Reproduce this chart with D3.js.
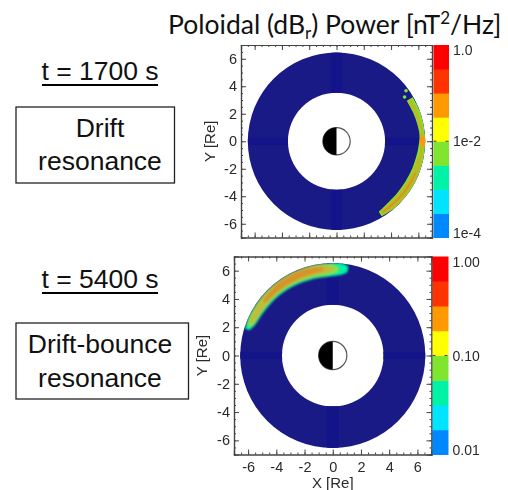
<!DOCTYPE html>
<html>
<head>
<meta charset="utf-8">
<script src="https://cdn.jsdelivr.net/npm/d3@7"></script>
<style>
  html, body { margin: 0; padding: 0; background: #fff; }
  svg { display: block; }
  text { fill: #111; }
  .soft { filter: blur(0.5px); }
  .hot1 { filter: blur(0.4px); }
  .hot2 { filter: blur(1px); }
  .plot text { font-family: "Liberation Sans", Arial, sans-serif; fill: #2a2a2a; }
  .note { font-family: "Liberation Sans", Arial, sans-serif; font-size: 26.5px; text-anchor: middle; }
</style>
</head>
<body>
<div id="chart"></div>
<script>
// colour levels of both colour bars, bottom to top
var levels = ["#0088ff", "#00e4ff", "#00f2a6", "#7fe52e", "#ffff00", "#ff9900", "#ff3300", "#ff0000"];
var ticksRe = [-6, -4, -2, 0, 2, 4, 6];
var minorRe = d3.range(-7, 7.01, 0.5);

// limits of the plasma annulus [Re]
var ringInner1 = 3.56, ringOuter1 = 6.5;
var ringInner2 = 3.6, ringOuter2 = 6.56;

// t = 1700 s, enhanced power along the right flank: azimuth (deg), inner and outer radius [Re]
var driftGreenAz = [-59, -50, -40, -30, -20, -10, -4, 4, 12, 20, 30];
var driftGreenIn = [6.02, 5.88, 5.85, 5.85, 5.9, 5.96, 6.02, 6.1, 6.05, 6.0, 5.95];
var driftGreenOut = [6.42, 6.48, 6.5, 6.5, 6.5, 6.5, 6.5, 6.5, 6.5, 6.5, 6.45];
var driftOliveAz = [-58, -50, -40, -30, -20, -12, -6, 6, 14, 22, 29];
var driftOliveIn = [6.08, 5.96, 5.94, 5.95, 6.0, 6.05, 6.15, 6.18, 6.1, 6.05, 6.0];
var driftOliveOut = [6.38, 6.44, 6.46, 6.46, 6.44, 6.4, 6.42, 6.42, 6.36, 6.33, 6.3];
var driftOrangeAz = [-57, -48, -38, -30, -22];
var driftOrangeIn = [6.14, 6.1, 6.12, 6.14, 6.16];
var driftOrangeOut = [6.28, 6.26, 6.28, 6.3, 6.3];
var driftPeakAz = [-3, 0, 3];
var driftPeakIn = [6.15, 6.1, 6.15];
var driftPeakOut = [6.5, 6.5, 6.5];
var driftSpeckAz = [33, 36];
var driftSpeckR = [5.95, 6.3];

// t = 5400 s, enhanced power on the upper left: azimuth (deg), inner and outer radius [Re]
var bounceTealAz = [80, 84, 92, 105, 120, 135, 150, 158, 163];
var bounceTealIn = [6.0, 5.75, 5.6, 5.6, 5.65, 5.72, 5.8, 5.9, 6.15];
var bounceTealOut = [6.4, 6.56, 6.56, 6.56, 6.56, 6.56, 6.56, 6.56, 6.5];
var bounceGreenAz = [86, 92, 105, 120, 135, 150, 158, 161];
var bounceGreenIn = [5.95, 5.72, 5.7, 5.75, 5.82, 5.88, 5.98, 6.15];
var bounceGreenOut = [6.3, 6.5, 6.54, 6.54, 6.54, 6.52, 6.48, 6.4];
var bounceOliveAz = [90, 98, 110, 125, 140, 152, 158];
var bounceOliveIn = [5.98, 5.85, 5.82, 5.87, 5.92, 6.0, 6.12];
var bounceOliveOut = [6.28, 6.46, 6.5, 6.5, 6.46, 6.4, 6.34];
var bounceOrangeAz = [96, 105, 115, 128, 142];
var bounceOrangeIn = [6.05, 5.96, 5.95, 5.98, 6.06];
var bounceOrangeOut = [6.28, 6.38, 6.42, 6.4, 6.3];

var width = 508, height = 490;
var svg = d3.select("#chart").append("svg").attr("width", width).attr("height", height);

function ribbon(az, inner, outer, color) {
  return { az: az, inner: inner, outer: outer, color: color };
}

function drawPanel(cfg) {
  var g = svg.append("g").attr("class", "plot soft");
  var x = d3.scaleLinear().domain([-7, 7]).range([cfg.left, cfg.right]);
  var y = d3.scaleLinear().domain([-7, 7]).range([cfg.bottom, cfg.top]);
  var r = function (v) { return (x(v) - x(0)); };
  var clipId = "ring" + cfg.id;
  var center = "translate(" + x(0) + "," + y(0) + ")";

  var ringPath = d3.arc()({
    innerRadius: r(cfg.ringInner), outerRadius: r(cfg.ringOuter),
    startAngle: 0, endAngle: 2 * Math.PI
  });
  g.append("clipPath").attr("id", clipId).append("path")
    .attr("transform", center)
    .attr("d", ringPath);

  g.append("path").attr("transform", center).attr("d", ringPath).attr("fill", "#1a1a86");

  // darker streaks along the axes
  var streaks = g.append("g").attr("clip-path", "url(#" + clipId + ")");
  streaks.append("rect").attr("x", x(-0.42)).attr("width", x(0.42) - x(-0.42))
    .attr("y", y(7)).attr("height", y(-7) - y(7)).attr("fill", "#13138a");
  streaks.append("rect").attr("y", y(0.26)).attr("height", y(-0.26) - y(0.26))
    .attr("x", x(-7)).attr("width", x(7) - x(-7)).attr("fill", "#13138a");

  // power ribbons
  var area = d3.areaRadial().curve(d3.curveCatmullRom)
    .angle(function (d) { return (90 - d.a) * Math.PI / 180; })
    .innerRadius(function (d) { return r(d.i); })
    .outerRadius(function (d) { return r(d.o); });
  var hot = g.append("g").attr("clip-path", "url(#" + clipId + ")")
    .append("g").attr("class", "hot" + cfg.id).attr("transform", center);
  cfg.ribbons.forEach(function (rb) {
    var rows = rb.az.map(function (a, i) { return { a: a, i: rb.inner[i], o: rb.outer[i] }; });
    hot.append("path").attr("d", area(rows)).attr("fill", rb.color);
  });
  (cfg.specks || []).forEach(function (s) {
    hot.append("circle").attr("r", 1.8).attr("fill", levels[3])
      .attr("cx", r(s.r * Math.cos(s.a * Math.PI / 180)))
      .attr("cy", -r(s.r * Math.sin(s.a * Math.PI / 180)));
  });

  // Earth, night side black
  var earth = g.append("g").attr("transform", center);
  earth.append("circle").attr("r", r(1)).attr("fill", "#fff").attr("stroke", "#555").attr("stroke-width", 1.2);
  earth.append("path").attr("fill", "#000").attr("d", d3.arc()({
    innerRadius: 0, outerRadius: r(1), startAngle: Math.PI, endAngle: 2 * Math.PI
  }));

  // frame and ticks on all sides
  var plain = function (d) { return String(d); }; // hyphen minus like the original
  function addAxis(axis, dx, dy) {
    var a = g.append("g").attr("transform", "translate(" + dx + "," + dy + ")").call(axis);
    a.select(".domain").attr("stroke", "#444").attr("stroke-width", 1.2);
    a.selectAll(".tick line").attr("stroke", "#444");
    a.selectAll("text").attr("font-size", 14.5);
    return a;
  }
  addAxis(d3.axisLeft(y).tickValues(minorRe).tickSize(-2).tickFormat(""), cfg.left, 0);
  addAxis(d3.axisRight(y).tickValues(minorRe).tickSize(-2).tickFormat(""), cfg.right, 0);
  addAxis(d3.axisTop(x).tickValues(minorRe).tickSize(-2).tickFormat(""), 0, cfg.top);
  addAxis(d3.axisBottom(x).tickValues(minorRe).tickSize(-2).tickFormat(""), 0, cfg.bottom);
  addAxis(d3.axisLeft(y).tickValues(ticksRe).tickSize(-5).tickPadding(4).tickFormat(plain), cfg.left, 0);
  addAxis(d3.axisRight(y).tickValues(ticksRe).tickSize(-5).tickFormat(""), cfg.right, 0);
  addAxis(d3.axisTop(x).tickValues(ticksRe).tickSize(-5).tickFormat(""), 0, cfg.top);
  addAxis(d3.axisBottom(x).tickValues(ticksRe).tickSize(-5).tickPadding(7)
    .tickFormat(cfg.xLabels ? plain : ""), 0, cfg.bottom);

  g.append("text").attr("transform", "translate(" + cfg.yLabelX + "," + y(0) + ") rotate(-90)")
    .attr("text-anchor", "middle").attr("font-size", 15).text("Y [Re]");
  if (cfg.xLabels) {
    g.append("text").attr("x", x(0)).attr("y", cfg.bottom + 33)
      .attr("text-anchor", "middle").attr("font-size", 15).text("X [Re]");
  }

  // colour bar
  var band = d3.scaleBand().domain(d3.range(levels.length)).range([cfg.bottom, cfg.top]);
  g.selectAll(".lev" + cfg.id).data(levels).enter().append("rect")
    .attr("x", cfg.barLeft).attr("width", cfg.barRight - cfg.barLeft)
    .attr("y", function (d, i) { return band(i); })
    .attr("height", band.bandwidth() + 0.5)
    .attr("fill", function (d) { return d; });
  var c = d3.scaleLog().domain(cfg.barDomain).range([cfg.bottom - 5, cfg.top + 5]);
  g.selectAll(".barlabel" + cfg.id).data(cfg.barTicks).enter().append("text")
    .attr("x", cfg.barRight + 4)
    .attr("y", function (d) { return c(d); })
    .attr("dy", "0.36em").attr("font-size", 14)
    .text(function (d, i) { return cfg.barLabels[i]; });
  var mid = cfg.barTicks[1];
  g.append("line").attr("x1", cfg.barLeft).attr("x2", cfg.barRight)
    .attr("y1", c(mid)).attr("y2", c(mid))
    .attr("stroke", "#444").attr("stroke-dasharray", "3,9");
}

drawPanel({
  id: 1, left: 241, right: 432, top: 45, bottom: 237.5,
  ringInner: ringInner1, ringOuter: ringOuter1,
  ribbons: [
    ribbon(driftGreenAz, driftGreenIn, driftGreenOut, levels[3]),
    ribbon(driftOliveAz, driftOliveIn, driftOliveOut, "#b9bb22"),
    ribbon(driftOrangeAz, driftOrangeIn, driftOrangeOut, "#d8971c"),
    ribbon(driftPeakAz, driftPeakIn, driftPeakOut, levels[5])
  ],
  specks: driftSpeckAz.map(function (a, i) { return { a: a, r: driftSpeckR[i] }; }),
  yLabelX: 215, xLabels: false,
  barLeft: 433.5, barRight: 449,
  barDomain: [1e-4, 1], barTicks: [1, 1e-2, 1e-4], barLabels: ["1.0", "1e-2", "1e-4"]
});

drawPanel({
  id: 2, left: 234, right: 431.5, top: 256.5, bottom: 454.5,
  ringInner: ringInner2, ringOuter: ringOuter2,
  ribbons: [
    ribbon(bounceTealAz, bounceTealIn, bounceTealOut, levels[2]),
    ribbon(bounceGreenAz, bounceGreenIn, bounceGreenOut, "#8fdc4a"),
    ribbon(bounceOliveAz, bounceOliveIn, bounceOliveOut, "#c3bb3c"),
    ribbon(bounceOrangeAz, bounceOrangeIn, bounceOrangeOut, "#d8922a")
  ],
  yLabelX: 207, xLabels: true,
  barLeft: 432.5, barRight: 448.5,
  barDomain: [0.01, 1], barTicks: [1, 0.1, 0.01], barLabels: ["1.00", "0.10", "0.01"]
});

// title
var title = svg.append("text").attr("x", 168).attr("y", 34)
  .attr("font-family", "Lato, 'Open Sans', sans-serif").attr("font-size", 26.5);
title.append("tspan").text("Poloidal (dB");
title.append("tspan").attr("font-size", 17).attr("dy", 5).text("r");
title.append("tspan").attr("dy", -5).text(") Power [nT");
title.append("tspan").attr("font-size", 17).attr("dy", -10).text("2");
title.append("tspan").attr("dy", 10).text("/Hz]");

// notes on the left
function note(txt, baseline) {
  svg.append("text").attr("class", "note").attr("x", 100).attr("y", baseline).text(txt);
}
function heading(txt, baseline) {
  note(txt, baseline);
  svg.append("rect").attr("x", 42).attr("y", baseline + 4).attr("width", 116).attr("height", 2).attr("fill", "#000");
}
function box(x0, y0, w, h) {
  svg.append("rect").attr("x", x0).attr("y", y0).attr("width", w).attr("height", h)
    .attr("fill", "none").attr("stroke", "#222").attr("stroke-width", 1.3);
}
heading("t = 1700 s", 80);
box(16, 107, 158.5, 76);
note("Drift", 137);
note("resonance", 170);
heading("t = 5400 s", 288);
box(16, 323, 172.5, 76);
note("Drift-bounce", 353);
note("resonance", 387);
</script>
</body>
</html>
